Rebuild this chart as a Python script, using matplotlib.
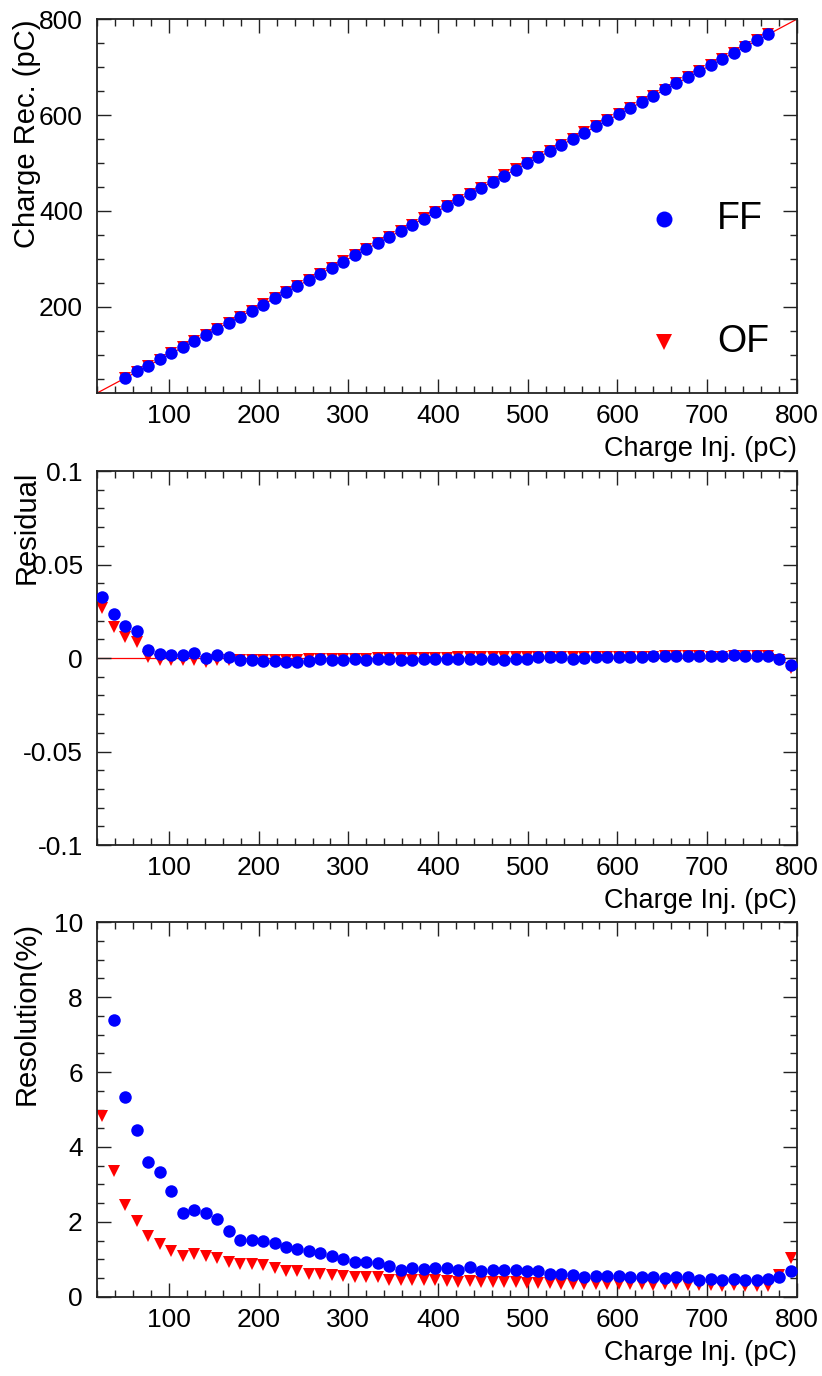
# coding: utf-8
# charge_linearity.py - FF / OF charge reconstruction, residual and resolution

import numpy as np
import matplotlib
matplotlib.use('Agg')
import matplotlib.pyplot as plt
from matplotlib.ticker import MultipleLocator

plt.rcParams['font.family'] = ['Liberation Sans', 'DejaVu Sans']

# 注入电荷 (pC)
charge_inj = [25.6, 38.4, 51.2, 64.0, 76.8, 89.6, 102.4, 115.2, 128.0, 140.8,
              153.6, 166.4, 179.2, 192.0, 204.8, 217.6, 230.4, 243.2, 256.0, 268.8,
              281.6, 294.4, 307.2, 320.0, 332.8, 345.6, 358.4, 371.2, 384.0, 396.8,
              409.6, 422.4, 435.2, 448.0, 460.8, 473.6, 486.4, 499.2, 512.0, 524.8,
              537.6, 550.4, 563.2, 576.0, 588.8, 601.6, 614.4, 627.2, 640.0, 652.8,
              665.6, 678.4, 691.2, 704.0, 716.8, 729.6, 742.4, 755.2, 768.0, 780.8,
              793.6]

# top panel only shows 51.2 .. 768 pC
charge_inj_rec = charge_inj[2:-2]
charge_rec_ff = [52.1, 64.9, 77.1, 89.8, 102.6, 115.5, 128.3, 140.8, 153.9, 166.5,
                 179.0, 191.8, 204.5, 217.2, 230.0, 242.7, 255.6, 268.6, 281.2, 294.2,
                 307.0, 319.8, 332.6, 345.4, 358.2, 370.8, 383.7, 396.6, 409.4, 422.2,
                 435.0, 447.8, 460.8, 473.0, 486.2, 499.0, 512.3, 525.1, 537.8, 550.2,
                 563.2, 576.3, 589.1, 601.9, 614.8, 627.6, 640.6, 653.5, 666.3, 679.2,
                 692.0, 704.6, 717.5, 730.6, 743.3, 756.1, 768.9]
charge_rec_of = [51.8, 64.5, 76.7, 89.5, 102.3, 115.1, 127.8, 140.6, 153.4, 166.2,
                 179.0, 191.8, 204.6, 217.4, 230.2, 243.1, 255.9, 268.7, 281.5, 294.3,
                 307.1, 320.0, 332.8, 345.6, 358.5, 371.3, 384.1, 396.9, 409.8, 422.6,
                 435.4, 448.3, 461.1, 473.9, 486.7, 499.5, 512.4, 525.2, 538.0, 550.8,
                 563.6, 576.4, 589.2, 602.0, 614.8, 627.6, 640.4, 653.3, 666.1, 678.9,
                 691.7, 704.5, 717.3, 730.1, 742.9, 755.7, 768.5]

residual_ff = [0.0324, 0.0237, 0.0172, 0.0142, 0.0044, 0.0021, 0.0018, 0.0016, 0.0027, 0.0000,
               0.0018, 0.0007, -0.0011, -0.0013, -0.0016, -0.0018, -0.0020, -0.0021, -0.0016, -0.0007,
               -0.0013, -0.0009, -0.0005, -0.0009, -0.0005, -0.0005, -0.0011, -0.0011, -0.0007, -0.0005,
               -0.0005, -0.0005, -0.0005, -0.0005, -0.0005, -0.0012, -0.0004, -0.0004, 0.0005, 0.0005,
               0.0005, -0.0004, 0.0000, 0.0005, 0.0005, 0.0005, 0.0007, 0.0005, 0.0009, 0.0011,
               0.0012, 0.0012, 0.0012, 0.0009, 0.0009, 0.0014, 0.0012, 0.0012, 0.0012, -0.0004,
               -0.0037]
residual_of = [0.0269, 0.0168, 0.0110, 0.0085, 0.0005, -0.0011, -0.0009, -0.0013, -0.0011, -0.0022,
               -0.0013, -0.0013, -0.0012, -0.0012, -0.0011, -0.0010, -0.0010, -0.0010, -0.0008, -0.0005,
               -0.0006, -0.0004, -0.0003, -0.0003, -0.0002, -0.0001, -0.0002, -0.0002, 0.0000, 0.0000,
               0.0002, 0.0004, 0.0004, 0.0004, 0.0004, 0.0003, 0.0004, 0.0004, 0.0007, 0.0007,
               0.0007, 0.0006, 0.0006, 0.0007, 0.0007, 0.0007, 0.0008, 0.0007, 0.0008, 0.0009,
               0.0009, 0.0009, 0.0009, 0.0008, 0.0008, 0.0010, 0.0009, 0.0009, 0.0009, -0.0009,
               -0.0052]

# FF at 25.6 pC is off scale (> 10 %)
resolution_ff = [np.nan, 7.38, 5.33, 4.46, 3.60, 3.33, 2.83, 2.25, 2.31, 2.25,
                 2.07, 1.75, 1.52, 1.51, 1.49, 1.43, 1.32, 1.27, 1.22, 1.18,
                 1.08, 1.01, 0.94, 0.94, 0.90, 0.81, 0.71, 0.78, 0.74, 0.78,
                 0.76, 0.72, 0.79, 0.70, 0.71, 0.71, 0.71, 0.68, 0.68, 0.62,
                 0.60, 0.58, 0.54, 0.55, 0.55, 0.55, 0.53, 0.53, 0.53, 0.50,
                 0.52, 0.53, 0.46, 0.47, 0.46, 0.47, 0.46, 0.45, 0.47, 0.53,
                 0.69]
resolution_of = [4.82, 3.37, 2.46, 2.01, 1.62, 1.42, 1.21, 1.09, 1.13, 1.08,
                 1.04, 0.93, 0.88, 0.87, 0.84, 0.77, 0.70, 0.68, 0.62, 0.62,
                 0.57, 0.56, 0.52, 0.52, 0.52, 0.46, 0.45, 0.46, 0.45, 0.45,
                 0.42, 0.40, 0.43, 0.40, 0.40, 0.40, 0.40, 0.38, 0.38, 0.36,
                 0.35, 0.35, 0.34, 0.35, 0.35, 0.33, 0.33, 0.34, 0.32, 0.33,
                 0.33, 0.32, 0.31, 0.32, 0.30, 0.31, 0.30, 0.30, 0.30, 0.59,
                 1.03]

x_min, x_max = 19.2, 800.0

fig = plt.figure(figsize=(8.22, 13.76), dpi=100)

# panel positions [left, bottom, width, height] in figure fraction
ax_rec = fig.add_axes([0.1176, 0.7142, 0.8516, 0.2718])
ax_res = fig.add_axes([0.1176, 0.3859, 0.8516, 0.2718])
ax_sig = fig.add_axes([0.1176, 0.0576, 0.8516, 0.2721])

ms = 9

def style_axis(ax, ylabel, ymajor, yminor):
    ax.set_xlim(x_min, x_max)
    ax.xaxis.set_major_locator(MultipleLocator(100))
    ax.xaxis.set_minor_locator(MultipleLocator(20))
    ax.yaxis.set_major_locator(MultipleLocator(ymajor))
    ax.yaxis.set_minor_locator(MultipleLocator(yminor))
    ax.tick_params(which='both', direction='in', top=True, right=True, labelsize=19, colors='#222222', labelcolor='black')
    ax.tick_params(which='major', length=10, width=1.0)
    ax.tick_params(which='minor', length=5, width=1.0)
    ax.tick_params(axis='x', pad=8)
    ax.tick_params(axis='y', pad=10)
    for sp in ax.spines.values():
        sp.set_linewidth(1.3)
        sp.set_color('#222222')
    ax.set_xlabel('Charge Inj. (pC)', fontsize=19.5, loc='right')
    ax.xaxis.set_label_coords(1.0, -0.115)
    ax.set_ylabel(ylabel, fontsize=21, loc='top')
    ax.yaxis.set_label_coords(-0.08, 1.0)

# 重建电荷
ax_rec.plot([x_min, x_max], [x_min, x_max], color='red', lw=0.9, zorder=1)
ax_rec.plot(charge_inj_rec, charge_rec_of, 'v', color='red', ms=ms, mew=0, zorder=2)
ax_rec.plot(charge_inj_rec, charge_rec_ff, 'o', color='blue', ms=ms, mew=0, zorder=3)
ax_rec.set_ylim(x_min, x_max)
style_axis(ax_rec, 'Charge Rec. (pC)', 200, 50)

# legend drawn by hand, ROOT style
ax_rec.plot([0.811], [0.466], 'o', color='blue', ms=11.5, mew=0, transform=ax_rec.transAxes)
ax_rec.plot([0.811], [0.138], 'v', color='red', ms=12, mew=0, transform=ax_rec.transAxes)
ax_rec.text(0.886, 0.466, 'FF', fontsize=27, va='center', ha='left', transform=ax_rec.transAxes)
ax_rec.text(0.886, 0.138, 'OF', fontsize=27, va='center', ha='left', transform=ax_rec.transAxes)

# 残差
ax_res.axhline(0, color='red', lw=0.9, zorder=1)
ax_res.plot(charge_inj, residual_of, 'v', color='red', ms=ms, mew=0, zorder=2)
ax_res.plot(charge_inj, residual_ff, 'o', color='blue', ms=ms, mew=0, zorder=3)
ax_res.set_ylim(-0.1, 0.1)
style_axis(ax_res, 'Residual', 0.05, 0.01)
ax_res.yaxis.set_major_formatter(matplotlib.ticker.FuncFormatter(lambda v, p: '0' if abs(v) < 1e-9 else f'{v:g}'))

# 分辨率
ax_sig.plot(charge_inj, resolution_of, 'v', color='red', ms=ms, mew=0, zorder=2)
ax_sig.plot(charge_inj, resolution_ff, 'o', color='blue', ms=ms, mew=0, zorder=3)
ax_sig.set_ylim(0, 10)
style_axis(ax_sig, 'Resolution(%)', 2, 0.5)

plt.savefig('out.png', dpi=100)
plt.close()
